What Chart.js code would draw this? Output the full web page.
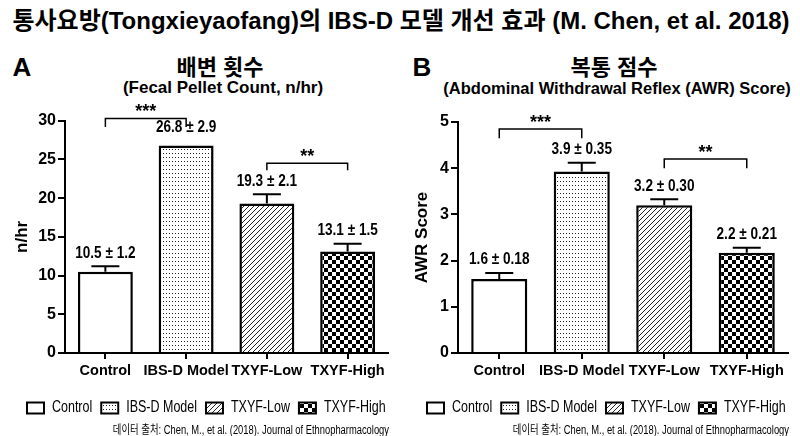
<!DOCTYPE html>
<html>
<head>
<meta charset="utf-8">
<script src="https://cdn.jsdelivr.net/npm/chart.js@4.4.1/dist/chart.umd.min.js"></script>
<style>
  body { margin: 0; background: #fff; }
  #wrap { position: relative; width: 800px; height: 436px; overflow: hidden; font-family: "Liberation Sans", "Noto Sans CJK KR", sans-serif; color: #000; }
  canvas { position: absolute; top: 0; }
  .txt { position: absolute; white-space: nowrap; font-weight: bold; transform: translate(-50%, -50%); }
  .src { position: absolute; white-space: nowrap; font-size: 12px; transform-origin: 100% 50%; transform: translate(-100%, -50%) scaleX(0.78); }
</style>
</head>
<body>
<div id="wrap">
  <div class="txt" style="left:401px; top:18px; font-size:24px;">통사요방(Tongxieyaofang)의 IBS-D 모델 개선 효과 (M. Chen, et al. 2018)</div>
  <div class="txt" style="left:22px; top:67px; font-size:26px;">A</div>
  <div class="txt" style="left:220px; top:65px; font-size:22px;">배변 횟수</div>
  <div class="txt" style="left:223px; top:88px; font-size:17px;">(Fecal Pellet Count, n/hr)</div>
  <div class="txt" style="left:422px; top:67px; font-size:26px;">B</div>
  <div class="txt" style="left:614px; top:65px; font-size:22px;">복통 점수</div>
  <div class="txt" style="left:617px; top:88px; font-size:16.5px;">(Abdominal Withdrawal Reflex (AWR) Score)</div>
  <canvas id="chartA" width="400" height="436" style="left:0"></canvas>
  <canvas id="chartB" width="400" height="436" style="left:400px"></canvas>
  <div class="src" style="left:389px; top:428px;">데이터 출처: Chen, M., et al. (2018). Journal of Ethnopharmacology</div>
  <div class="src" style="left:789px; top:428px;">데이터 출처: Chen, M., et al. (2018). Journal of Ethnopharmacology</div>
</div>
<script>
const groups = ['Control', 'IBS-D Model', 'TXYF-Low', 'TXYF-High'];

// A: fecal pellet count (n/hr)
const pelletMean = [10.5, 26.8, 19.3, 13.1];
const pelletLabel = ['10.5 ± 1.2', '26.8 ± 2.9', '19.3 ± 2.1', '13.1 ± 1.5'];
const pelletBar = [0.7, null, 1.2, 1.0];   // error bar length as drawn
const pelletTicks = [0, 5, 10, 15, 20, 25, 30];

// B: AWR score
const awrMean = [1.6, 3.93, 3.2, 2.17];
const awrLabel = ['1.6 ± 0.18', '3.9 ± 0.35', '3.2 ± 0.30', '2.2 ± 0.21'];
const awrBar = [0.13, 0.19, 0.13, 0.11];
const awrTicks = [0, 1, 2, 3, 4, 5];

// significance brackets: [from, to, level, drop, stars]
const pelletSig = [[0, 1, 30.3, 1.1, '***'], [2, 3, 24.5, 0.9, '**']];
const awrSig = [[0, 1, 4.85, 0.2, '***'], [2, 3, 4.2, 0.2, '**']];

function makePattern(kind) {
  const c = document.createElement('canvas');
  const g = c.getContext('2d');
  if (kind === 'dots') {
    c.width = 3; c.height = 4;
    g.fillStyle = '#fff'; g.fillRect(0, 0, 3, 4);
    g.fillStyle = '#222'; g.fillRect(1, 1, 1, 1);
  } else if (kind === 'hatch') {
    c.width = 5; c.height = 5;
    g.fillStyle = '#fff'; g.fillRect(0, 0, 5, 5);
    g.strokeStyle = '#222'; g.lineWidth = 1;
    g.beginPath();
    g.moveTo(0, 5); g.lineTo(5, 0);
    g.moveTo(-2.5, 2.5); g.lineTo(2.5, -2.5);
    g.moveTo(2.5, 7.5); g.lineTo(7.5, 2.5);
    g.stroke();
  } else if (kind === 'check') {
    c.width = 8; c.height = 8;
    g.fillStyle = '#fff'; g.fillRect(0, 0, 8, 8);
    g.fillStyle = '#000'; g.fillRect(0, 0, 4, 4); g.fillRect(4, 4, 4, 4);
  } else {
    c.width = 2; c.height = 2;
    g.fillStyle = '#fff'; g.fillRect(0, 0, 2, 2);
  }
  return g.createPattern(c, 'repeat');
}
const fills = [makePattern('plain'), makePattern('dots'), makePattern('hatch'), makePattern('check')];

// draw text squeezed horizontally (no narrow font installed)
function narrowText(ctx, s, x, y, k) {
  ctx.save();
  ctx.translate(x, y);
  ctx.scale(k, 1);
  ctx.fillText(s, 0, 0);
  ctx.restore();
}

const annot = {
  id: 'annot',
  afterDatasetsDraw(chart, args, opts) {
    const ctx = chart.ctx, x = chart.scales.x, y = chart.scales.y;
    const meta = chart.getDatasetMeta(0);
    ctx.save();
    ctx.strokeStyle = '#000'; ctx.fillStyle = '#000';
    // error bars + value labels
    meta.data.forEach((bar, i) => {
      const top = y.getPixelForValue(opts.mean[i]);
      let labelY = top - 10;
      if (opts.err[i] != null) {
        const cap = y.getPixelForValue(opts.mean[i] + opts.err[i]);
        ctx.lineWidth = 2;
        ctx.beginPath();
        ctx.moveTo(bar.x, top); ctx.lineTo(bar.x, cap);
        ctx.moveTo(bar.x - 14, cap); ctx.lineTo(bar.x + 14, cap);
        ctx.stroke();
        labelY = cap - 5;
      }
      ctx.font = 'bold 16px "Liberation Sans", sans-serif';
      ctx.textAlign = 'center'; ctx.textBaseline = 'bottom';
      narrowText(ctx, opts.labels[i], bar.x, labelY, 0.85);
    });
    // significance brackets
    opts.sig.forEach(([a, b, lvl, drop, stars]) => {
      const x1 = x.getPixelForValue(a), x2 = x.getPixelForValue(b);
      const yy = y.getPixelForValue(lvl), yd = y.getPixelForValue(lvl - drop);
      ctx.lineWidth = 1.5;
      ctx.beginPath();
      ctx.moveTo(x1, yd); ctx.lineTo(x1, yy); ctx.lineTo(x2, yy); ctx.lineTo(x2, yd);
      ctx.stroke();
      ctx.font = 'bold 18px "Liberation Sans", sans-serif';
      ctx.textAlign = 'center'; ctx.textBaseline = 'alphabetic';
      ctx.fillText(stars, (x1 + x2) / 2, yy - 1);
    });
    ctx.restore();
  },
  afterDraw(chart) {
    // legend row
    const ctx = chart.ctx;
    ctx.save();
    ctx.font = '16px "Liberation Sans", sans-serif';
    ctx.textBaseline = 'middle'; ctx.textAlign = 'left';
    const k = 0.78;
    let lx = 27;
    const ly = 408;
    groups.forEach((g, i) => {
      ctx.fillStyle = fills[i];
      ctx.fillRect(lx, ly - 5.5, 17, 11);
      ctx.strokeStyle = '#000'; ctx.lineWidth = 2;
      ctx.strokeRect(lx, ly - 5.5, 17, 11);
      ctx.fillStyle = '#000';
      narrowText(ctx, g, lx + 25, ly, k);
      lx += 25 + ctx.measureText(g).width * k + 9;
    });
    ctx.restore();
  }
};

function build(id, mean, labels, err, sig, ticks, yTitle, leftW, top) {
  return new Chart(document.getElementById(id), {
    type: 'bar',
    data: {
      labels: groups,
      datasets: [{
        data: mean,
        backgroundColor: fills,
        borderColor: '#000',
        borderWidth: 2.5,
        borderSkipped: 'bottom',
        categoryPercentage: 0.68,
        barPercentage: 1.0
      }]
    },
    options: {
      responsive: false,
      animation: false,
      layout: { padding: { left: 0, top: top, right: 12, bottom: 43 } },
      plugins: {
        legend: { display: false },
        tooltip: { enabled: false },
        annot: { mean: mean, labels: labels, err: err, sig: sig }
      },
      scales: {
        x: {
          afterFit: s => { s.height = 40; },
          border: { color: '#000', width: 2 },
          grid: { offset: false, drawOnChartArea: false, drawTicks: true, tickLength: 6, color: '#000', lineWidth: 2 },
          ticks: { color: '#000', padding: 3, maxRotation: 0, minRotation: 0, autoSkip: false, font: { family: '"Liberation Sans", sans-serif', size: 14.5, weight: 'bold' } }
        },
        y: {
          min: ticks[0], max: ticks[ticks.length - 1],
          afterFit: s => { s.width = leftW; },
          afterBuildTicks: s => { s.ticks = ticks.map(v => ({ value: v })); },
          border: { color: '#000', width: 2 },
          grid: { drawOnChartArea: false, drawTicks: true, tickLength: 7, color: '#000', lineWidth: 2 },
          ticks: { color: '#000', padding: 2, font: { family: '"Liberation Sans", sans-serif', size: 16, weight: 'bold' } },
          title: { display: true, text: yTitle, color: '#000', padding: { top: 12, bottom: 0 }, font: { family: '"Liberation Sans", sans-serif', size: 17, weight: 'bold' } }
        }
      }
    },
    plugins: [annot]
  });
}

build('chartA', pelletMean, pelletLabel, pelletBar, pelletSig, pelletTicks, 'n/hr', 65, 120.7);
build('chartB', awrMean, awrLabel, awrBar, awrSig, awrTicks, 'AWR Score', 58, 122);
</script>
</body>
</html>
